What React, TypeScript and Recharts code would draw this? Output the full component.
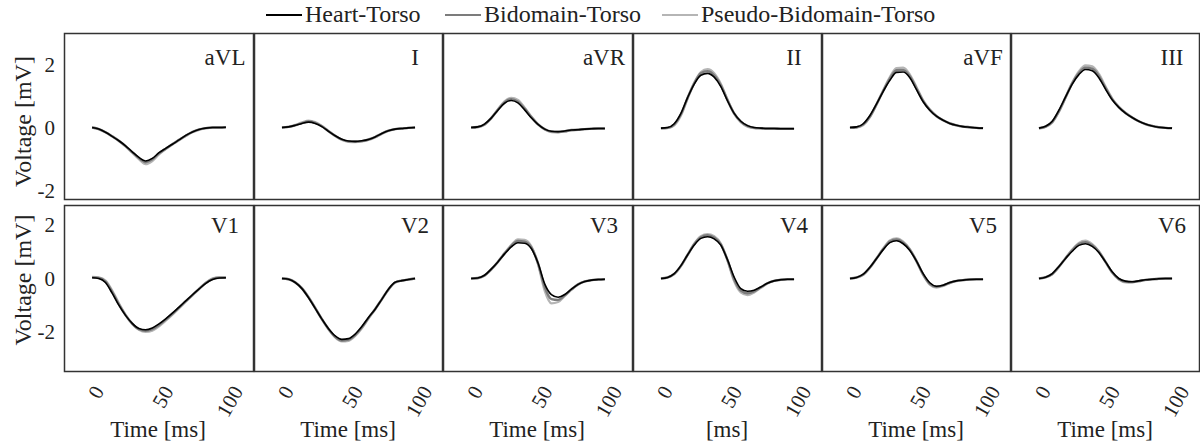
import { LineChart, Line, XAxis, YAxis } from "recharts";

// sample times (ms)
const TIME = [0, 5, 10, 15, 20, 25, 30, 35, 40, 45, 50, 55, 60, 65, 70, 75, 80, 85, 90, 95, 100];

const SERIES = ["Heart-Torso", "Bidomain-Torso", "Pseudo-Bidomain-Torso"];
const SERIES_COLORS = ["#000000", "#7c7c7c", "#b5b5b5"];

const LEADS = ["aVL", "I", "aVR", "II", "aVF", "III", "V1", "V2", "V3", "V4", "V5", "V6"];
const X_TICKS = [0, 50, 100];
const Y_TICKS = [-2, 0, 2];
const Y_LABEL = "Voltage [mV]";
const X_LABELS = ["Time [ms]", "Time [ms]", "Time [ms]", "[ms]", "Time [ms]", "Time [ms]"];

// limb leads
const aVL_heart = [0, -0.05, -0.15, -0.28, -0.42, -0.58, -0.77, -0.95, -1.06, -0.98, -0.8, -0.66, -0.53, -0.39, -0.25, -0.14, -0.06, -0.02, 0, 0, 0.01];
const aVL_bido = [0, -0.05, -0.15, -0.28, -0.42, -0.59, -0.78, -0.97, -1.1, -1.01, -0.82, -0.67, -0.53, -0.39, -0.26, -0.14, -0.06, -0.02, 0, 0, 0.01];
const aVL_pseudo = [0, -0.05, -0.15, -0.28, -0.43, -0.6, -0.8, -1.0, -1.16, -1.06, -0.85, -0.68, -0.54, -0.4, -0.27, -0.15, -0.07, -0.02, 0, 0, 0.01];

const I_heart = [0, 0.02, 0.07, 0.13, 0.17, 0.13, 0.03, -0.12, -0.26, -0.37, -0.43, -0.44, -0.42, -0.38, -0.3, -0.19, -0.1, -0.05, -0.03, -0.01, 0];
const I_bido = [0, 0.02, 0.07, 0.14, 0.19, 0.15, 0.04, -0.12, -0.26, -0.38, -0.44, -0.45, -0.43, -0.38, -0.3, -0.19, -0.1, -0.05, -0.03, -0.01, 0];
const I_pseudo = [0, 0.02, 0.08, 0.16, 0.22, 0.17, 0.05, -0.11, -0.27, -0.39, -0.45, -0.46, -0.44, -0.39, -0.31, -0.2, -0.11, -0.05, -0.03, -0.01, 0];

const aVR_heart = [0, 0.02, 0.11, 0.3, 0.55, 0.77, 0.86, 0.78, 0.56, 0.31, 0.1, -0.05, -0.12, -0.13, -0.11, -0.08, -0.07, -0.05, -0.04, -0.03, -0.03];
const aVR_bido = [0, 0.02, 0.1, 0.3, 0.56, 0.8, 0.9, 0.82, 0.6, 0.33, 0.1, -0.05, -0.13, -0.14, -0.12, -0.08, -0.07, -0.05, -0.04, -0.03, -0.03];
const aVR_pseudo = [0, 0.01, 0.09, 0.29, 0.57, 0.83, 0.94, 0.87, 0.63, 0.35, 0.11, -0.06, -0.14, -0.15, -0.12, -0.09, -0.07, -0.05, -0.04, -0.03, -0.03];

const II_heart = [-0.02, 0, 0.12, 0.45, 0.95, 1.38, 1.66, 1.72, 1.6, 1.3, 0.85, 0.45, 0.2, 0.06, 0, -0.02, -0.03, -0.03, -0.04, -0.04, -0.04];
const II_bido = [-0.02, -0.01, 0.1, 0.42, 0.94, 1.4, 1.72, 1.79, 1.66, 1.34, 0.87, 0.45, 0.19, 0.05, -0.01, -0.02, -0.03, -0.03, -0.04, -0.04, -0.04];
const II_pseudo = [-0.03, -0.02, 0.07, 0.38, 0.92, 1.42, 1.76, 1.85, 1.72, 1.38, 0.88, 0.44, 0.17, 0.03, -0.02, -0.03, -0.04, -0.04, -0.04, -0.04, -0.04];

const aVF_heart = [0, 0.02, 0.12, 0.38, 0.75, 1.15, 1.5, 1.75, 1.76, 1.58, 1.2, 0.82, 0.55, 0.36, 0.23, 0.13, 0.07, 0.03, 0.01, -0.01, -0.02];
const aVF_bido = [0, 0.01, 0.1, 0.35, 0.74, 1.16, 1.55, 1.82, 1.83, 1.63, 1.24, 0.84, 0.56, 0.36, 0.23, 0.13, 0.07, 0.03, 0.01, -0.01, -0.02];
const aVF_pseudo = [-0.01, 0, 0.08, 0.33, 0.73, 1.18, 1.6, 1.88, 1.9, 1.68, 1.28, 0.86, 0.57, 0.37, 0.23, 0.13, 0.07, 0.03, 0.01, -0.01, -0.02];

const III_heart = [-0.02, 0.04, 0.2, 0.55, 0.97, 1.38, 1.68, 1.84, 1.8, 1.58, 1.22, 0.88, 0.64, 0.46, 0.32, 0.2, 0.11, 0.05, 0.01, -0.01, -0.02];
const III_bido = [-0.02, 0.03, 0.18, 0.52, 0.96, 1.4, 1.73, 1.9, 1.87, 1.64, 1.26, 0.9, 0.65, 0.46, 0.32, 0.2, 0.11, 0.05, 0.01, -0.01, -0.02];
const III_pseudo = [-0.03, 0.02, 0.16, 0.5, 0.95, 1.42, 1.78, 1.97, 1.94, 1.7, 1.3, 0.92, 0.66, 0.47, 0.32, 0.2, 0.11, 0.05, 0.01, -0.01, -0.02];

// precordial leads
const V1_heart = [0.03, 0, -0.15, -0.55, -1.0, -1.38, -1.68, -1.87, -1.92, -1.85, -1.7, -1.51, -1.3, -1.07, -0.84, -0.61, -0.39, -0.18, -0.04, 0.02, 0.03];
const V1_bido = [0.04, 0.02, -0.12, -0.5, -0.97, -1.37, -1.69, -1.9, -1.96, -1.9, -1.74, -1.54, -1.32, -1.09, -0.85, -0.62, -0.39, -0.17, -0.02, 0.03, 0.03];
const V1_pseudo = [0.06, 0.04, -0.08, -0.45, -0.93, -1.36, -1.7, -1.92, -2.0, -1.95, -1.79, -1.58, -1.35, -1.11, -0.87, -0.63, -0.39, -0.16, 0, 0.04, 0.04];

const V2_heart = [0, -0.03, -0.15, -0.38, -0.72, -1.12, -1.52, -1.88, -2.15, -2.28, -2.25, -2.08, -1.8, -1.46, -1.15, -0.78, -0.4, -0.14, -0.08, -0.04, 0];
const V2_bido = [0, -0.03, -0.15, -0.37, -0.71, -1.11, -1.52, -1.89, -2.18, -2.32, -2.29, -2.12, -1.83, -1.48, -1.15, -0.78, -0.41, -0.15, -0.08, -0.04, 0];
const V2_pseudo = [0, -0.03, -0.14, -0.36, -0.7, -1.1, -1.52, -1.9, -2.2, -2.35, -2.33, -2.15, -1.86, -1.5, -1.15, -0.78, -0.42, -0.15, -0.08, -0.04, 0];

const V3_heart = [0, 0.02, 0.12, 0.35, 0.62, 0.92, 1.18, 1.34, 1.32, 1.12, 0.58, -0.2, -0.6, -0.7, -0.6, -0.4, -0.22, -0.11, -0.06, -0.04, -0.03];
const V3_bido = [0, 0.02, 0.11, 0.34, 0.62, 0.93, 1.22, 1.4, 1.38, 1.16, 0.57, -0.32, -0.77, -0.8, -0.63, -0.41, -0.22, -0.11, -0.06, -0.04, -0.03];
const V3_pseudo = [0, 0.01, 0.1, 0.33, 0.62, 0.95, 1.25, 1.46, 1.44, 1.2, 0.55, -0.45, -0.93, -0.88, -0.65, -0.42, -0.22, -0.11, -0.06, -0.04, -0.03];

const V4_heart = [0, 0.04, 0.18, 0.48, 0.88, 1.25, 1.5, 1.56, 1.48, 1.25, 0.7, 0.05, -0.38, -0.48, -0.44, -0.32, -0.18, -0.09, -0.05, -0.03, -0.03];
const V4_bido = [0, 0.04, 0.17, 0.47, 0.88, 1.28, 1.54, 1.62, 1.53, 1.28, 0.69, -0.03, -0.45, -0.55, -0.48, -0.33, -0.18, -0.09, -0.05, -0.03, -0.03];
const V4_pseudo = [0, 0.03, 0.16, 0.46, 0.88, 1.3, 1.58, 1.66, 1.58, 1.3, 0.68, -0.1, -0.52, -0.62, -0.52, -0.35, -0.19, -0.09, -0.05, -0.03, -0.03];

const V5_heart = [0, 0.04, 0.16, 0.42, 0.75, 1.08, 1.34, 1.41, 1.3, 1.05, 0.65, 0.18, -0.16, -0.29, -0.25, -0.15, -0.09, -0.06, -0.04, -0.03, -0.03];
const V5_bido = [0, 0.04, 0.15, 0.41, 0.75, 1.1, 1.38, 1.46, 1.34, 1.08, 0.65, 0.15, -0.2, -0.31, -0.26, -0.16, -0.09, -0.06, -0.04, -0.03, -0.03];
const V5_pseudo = [0, 0.03, 0.14, 0.4, 0.75, 1.12, 1.42, 1.5, 1.38, 1.1, 0.65, 0.13, -0.23, -0.34, -0.28, -0.17, -0.1, -0.06, -0.04, -0.03, -0.03];

const V6_heart = [0, 0.05, 0.18, 0.45, 0.75, 1.02, 1.24, 1.3, 1.2, 0.97, 0.62, 0.25, 0, -0.1, -0.12, -0.09, -0.05, -0.03, -0.01, 0, 0];
const V6_bido = [0, 0.05, 0.17, 0.44, 0.76, 1.05, 1.29, 1.36, 1.24, 1.0, 0.62, 0.23, -0.02, -0.12, -0.13, -0.1, -0.05, -0.03, -0.01, 0, 0];
const V6_pseudo = [0, 0.04, 0.16, 0.43, 0.76, 1.08, 1.33, 1.41, 1.28, 1.02, 0.62, 0.22, -0.04, -0.14, -0.14, -0.1, -0.06, -0.03, -0.01, 0, 0];

const LEAD_SERIES: Record<string, number[][]> = {
  aVL: [aVL_heart, aVL_bido, aVL_pseudo],
  I: [I_heart, I_bido, I_pseudo],
  aVR: [aVR_heart, aVR_bido, aVR_pseudo],
  II: [II_heart, II_bido, II_pseudo],
  aVF: [aVF_heart, aVF_bido, aVF_pseudo],
  III: [III_heart, III_bido, III_pseudo],
  V1: [V1_heart, V1_bido, V1_pseudo],
  V2: [V2_heart, V2_bido, V2_pseudo],
  V3: [V3_heart, V3_bido, V3_pseudo],
  V4: [V4_heart, V4_bido, V4_pseudo],
  V5: [V5_heart, V5_bido, V5_pseudo],
  V6: [V6_heart, V6_bido, V6_pseudo],
};

// layout
const FONT = "'Liberation Serif', 'DejaVu Serif', serif";
const TXT = { fontFamily: FONT };
const COL_LEFT = [64, 254, 443, 633, 822, 1011];
const COL_W = [190, 189, 190, 189, 189, 189];
const ROW_TOP = [33, 205];
const PLOT_H = 167;
const Y_AXIS_W = 64;
const X_AXIS_H = 64;
const ROW_DOMAIN: [number, number][] = [
  [-2.3, 3.0],
  [-3.5, 2.75],
];
const X_DOMAIN: [number, number] = [-21, 121];

function buildRows(lead: string) {
  const s = LEAD_SERIES[lead];
  return TIME.map((t, i) => ({ t, s0: s[0][i], s1: s[1][i], s2: s[2][i] }));
}

const XTick = ({ x, y, payload }: any) => {
  const label = String(payload.value);
  const w = label.length * 10.5;
  const cx = x + 4;
  const cy = y + (w * 0.866 + 15 * 0.5) / 2;
  return (
    <text
      x={cx}
      y={cy}
      textAnchor="middle"
      dominantBaseline="central"
      transform={`rotate(-60 ${cx} ${cy})`}
      style={TXT}
      fontSize={21}
      fill="#222"
    >
      {label}
    </text>
  );
};

const YTick = ({ x, y, payload }: any) => (
  <text x={x} y={y} dy="0.35em" textAnchor="end" style={TXT} fontSize={21} fill="#222">
    {payload.value}
  </text>
);

function Panel({ lead, index }: { lead: string; index: number }) {
  const row = Math.floor(index / 6);
  const col = index % 6;
  const yw = col === 0 ? Y_AXIS_W : 0;
  // extra room under the top row so the "-2" label is not clipped
  const xh = row === 1 ? X_AXIS_H : 0;
  const pad = row === 0 ? 10 : 0;
  const rows = buildRows(lead);
  return (
    <div style={{ position: "absolute", left: COL_LEFT[col] - yw, top: ROW_TOP[row] }}>
      <LineChart
        width={COL_W[col] + yw}
        height={PLOT_H + xh + pad}
        data={rows}
        margin={{ top: 0, right: 0, bottom: pad, left: 0 }}
      >
        <XAxis
          dataKey="t"
          type="number"
          domain={X_DOMAIN}
          ticks={X_TICKS}
          interval={0}
          hide={row === 0}
          height={xh}
          axisLine={false}
          tickLine={false}
          tickSize={0}
          tickMargin={12}
          tick={<XTick />}
        />
        <YAxis
          type="number"
          domain={ROW_DOMAIN[row]}
          ticks={Y_TICKS}
          interval={0}
          allowDataOverflow
          hide={col !== 0}
          width={Y_AXIS_W}
          axisLine={false}
          tickLine={false}
          tickSize={0}
          tickMargin={9}
          tick={<YTick />}
        />
        {/* heart-torso drawn last so it sits on top */}
        {[2, 1, 0].map((i) => (
          <Line
            key={SERIES[i]}
            dataKey={`s${i}`}
            name={SERIES[i]}
            type="monotone"
            stroke={SERIES_COLORS[i]}
            strokeWidth={i === 0 ? 1.6 : 2.4}
            dot={false}
            isAnimationActive={false}
          />
        ))}
      </LineChart>
    </div>
  );
}

const LEGEND_X = [266, 445, 662];

export default function App() {
  return (
    <div
      style={{
        position: "absolute",
        left: 0,
        top: 0,
        width: 1200,
        height: 448,
        background: "#fff",
        overflow: "hidden",
        fontFamily: FONT,
      }}
    >
      {LEADS.map((lead, i) => (
        <Panel key={lead} lead={lead} index={i} />
      ))}
      <svg
        width={1200}
        height={448}
        style={{ position: "absolute", left: 0, top: 0, pointerEvents: "none", fontFamily: FONT }}
      >
        {/* legend */}
        {SERIES.map((name, i) => (
          <g key={name}>
            <line x1={LEGEND_X[i]} x2={LEGEND_X[i] + 36} y1={15} y2={15} stroke={SERIES_COLORS[i]} strokeWidth={2} />
            <text x={LEGEND_X[i] + 39} y={22} fontSize={24} fill="#222" style={TXT}>
              {name}
            </text>
          </g>
        ))}
        {/* panel frames + titles */}
        {LEADS.map((lead, i) => {
          const row = Math.floor(i / 6);
          const col = i % 6;
          const left = COL_LEFT[col];
          const top = ROW_TOP[row];
          return (
            <g key={lead}>
              <rect
                x={left + 0.5}
                y={top + 0.5}
                width={COL_W[col] - 1}
                height={PLOT_H - 1}
                fill="none"
                stroke="#333"
                strokeWidth={1.5}
              />
              <text
                x={left + 161}
                y={top + (row === 0 ? 32 : 28)}
                textAnchor="middle"
                fontSize={23}
                fill="#222"
                style={TXT}
              >
                {lead}
              </text>
            </g>
          );
        })}
        {/* y labels */}
        {ROW_TOP.map((top, r) => {
          const cy = r === 0 ? 121.5 : 280;
          return (
            <text
              key={r}
              x={31}
              y={cy}
              textAnchor="middle"
              fontSize={24}
              fill="#222"
              style={TXT}
              transform={`rotate(-90 31 ${cy})`}
            >
              {Y_LABEL}
            </text>
          );
        })}
        {/* x labels */}
        {X_LABELS.map((lab, c) => (
          <text key={c} x={COL_LEFT[c] + 94} y={437} textAnchor="middle" fontSize={23} fill="#222" style={TXT}>
            {lab}
          </text>
        ))}
      </svg>
    </div>
  );
}
